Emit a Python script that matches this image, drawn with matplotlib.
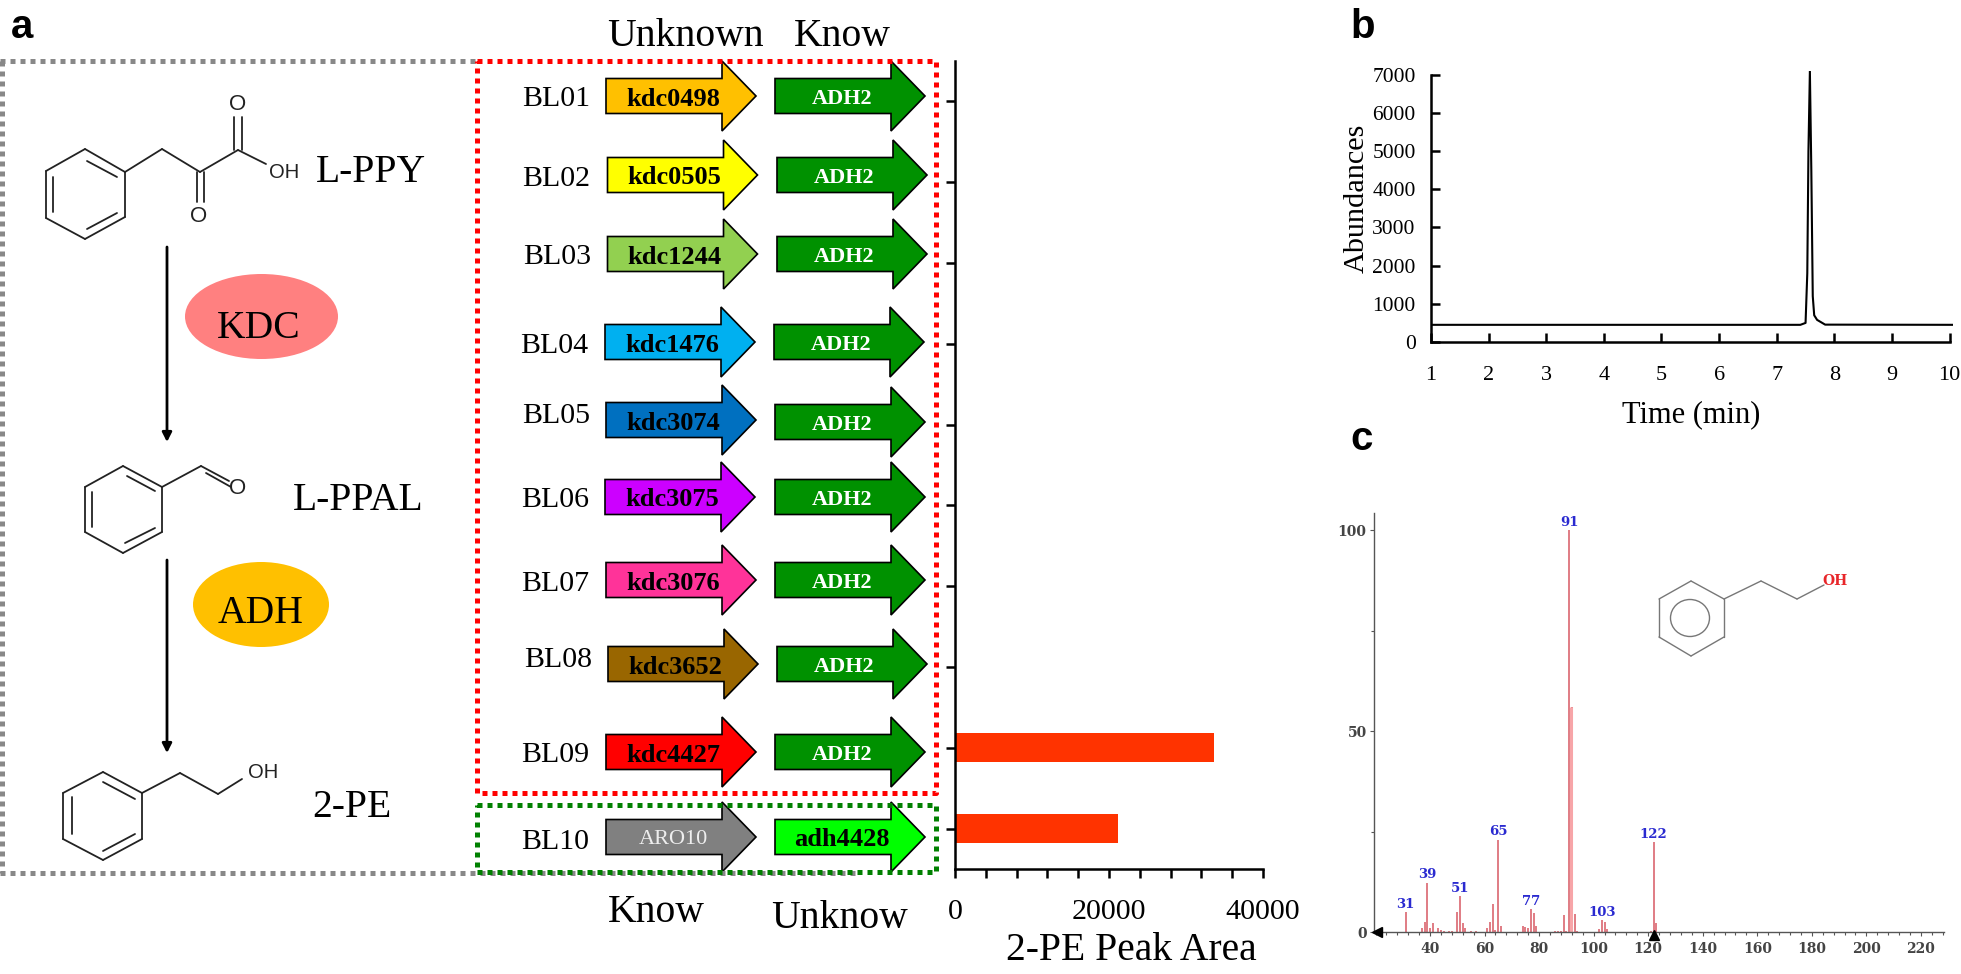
#!/usr/bin/env python3
"""2-PE pathway, strain screen, chromatogram and mass spectrum."""

import matplotlib
matplotlib.use("Agg")
import matplotlib.pyplot as plt
from matplotlib.patches import Ellipse, Polygon
from matplotlib.ticker import FixedLocator, MultipleLocator, NullFormatter

W, H = 1961, 974
SERIF = "Liberation Serif"
SANS = "Liberation Sans"
SPEC_FONT = "DejaVu Serif"

# ---- Data ----
strains = ["BL01", "BL02", "BL03", "BL04", "BL05",
           "BL06", "BL07", "BL08", "BL09", "BL10"]
first_genes = ["kdc0498", "kdc0505", "kdc1244", "kdc1476", "kdc3074",
               "kdc3075", "kdc3076", "kdc3652", "kdc4427", "ARO10"]
second_genes = ["ADH2"] * 9 + ["adh4428"]
peak_area = [0, 0, 0, 0, 0, 0, 0, 0, 33600, 21200]

time_min = [1.0, 7.41, 7.50, 7.53, 7.55, 7.575, 7.60, 7.625, 7.65, 7.70, 7.84, 10.05]
abundance = [450, 450, 500, 1800, 5000, 7100, 4500, 1200, 700, 580, 455, 450]

mz = [31, 37, 38, 39, 40, 41, 43, 44, 45, 47, 48, 50, 51, 52, 53, 55, 57,
      61, 62, 63, 64, 65, 66, 74, 75, 76, 77, 78, 79, 86, 87, 88, 89, 90,
      91, 92, 93, 94, 102, 103, 104, 105, 121, 122, 123]
intensity = [5, 1, 2.5, 12.3, 1, 2.2, 0.9, 0.6, 0.3, 0.3, 0.3, 5, 9, 2.2, 0.9, 0.3, 0.2,
             0.9, 2.5, 6.9, 0.5, 23, 1.4, 1.4, 1.2, 0.9, 5.8, 4.8, 1.4, 0.3, 0.3, 0.3, 4.2, 0.3,
             100, 56, 4.6, 0.3, 0.8, 3, 2.4, 0.7, 0.3, 22.4, 2.2]
labelled_mz = [31, 39, 51, 65, 77, 91, 103, 122]
spectrum_ticks = [40, 60, 80, 100, 120, 140, 160, 180, 200, 220]

# ---- Layout of the gene arrows (pixels) ----
first_left = [606, 607.5, 607.5, 605, 606, 605, 606, 608, 606, 606]
second_left = [775, 777, 777, 774, 775, 775, 775, 777, 775, 775]
first_cy = [96, 175, 254, 342, 420, 497, 580, 664, 752, 837]
second_cy = [96, 175, 254, 342, 422, 497, 580, 664, 752, 837]
label_cy = [96, 176, 254, 343, 413, 497, 581, 657, 752, 839]
label_left = [522, 522, 523, 520, 522, 521, 521, 524, 521, 521]
first_colors = ["#FFC000", "#FFFF00", "#92D050", "#00B0F0", "#0070C0",
                "#CC00FF", "#FF3399", "#996600", "#FF0000", "#808080"]
second_colors = ["#009100"] * 9 + ["#00FF00"]


def px_axes(fig, left, top, right, bottom):
    return fig.add_axes([left / W, 1 - bottom / H, (right - left) / W, (bottom - top) / H])


def gene_arrow(ov, left, cy, color):
    tip, neck = left + 150, left + 116
    pts = [(left, cy - 17.5), (neck, cy - 17.5), (neck, cy - 35), (tip, cy),
           (neck, cy + 35), (neck, cy + 17.5), (left, cy + 17.5)]
    ov.add_patch(Polygon(pts, closed=True, facecolor=color, edgecolor="black",
                         linewidth=1.2, joinstyle="miter"))


def dotted(ov, xs, ys, color):
    ov.plot(xs, ys, color=color, lw=3.6, linestyle=(0, (1, 1)), dash_capstyle="butt")


def segments(ov, segs, color="#222222", lw=1.3):
    for x0, y0, x1, y1 in segs:
        ov.plot([x0, x1], [y0, y1], color=color, lw=lw, solid_capstyle="round")


def draw_pathway(ov):
    # phenylpyruvate
    segments(ov, [(46, 171, 85, 149), (85, 149, 125, 172), (125, 172, 125, 217),
                  (125, 217, 85, 239), (85, 239, 46, 218), (46, 218, 46, 171),
                  (87, 161, 117, 177), (53, 177, 53, 212), (87, 229, 117, 213),
                  (125, 172, 162, 149), (162, 149, 200, 172), (200, 172, 238, 150),
                  (234, 150, 234, 117), (242, 150, 242, 117),
                  (197, 172, 197, 202), (204, 172, 204, 202), (238, 150, 266, 164)])
    ov.text(238, 105, "O", family=SANS, fontsize=16, ha="center", va="center", color="#222222")
    ov.text(199, 216, "O", family=SANS, fontsize=16, ha="center", va="center", color="#222222")
    ov.text(284, 172, "OH", family=SANS, fontsize=14.5, ha="center", va="center", color="#222222")
    # phenylacetaldehyde
    segments(ov, [(85, 487, 123, 466), (123, 466, 162, 487), (162, 487, 162, 532),
                  (162, 532, 123, 553), (123, 553, 85, 532), (85, 532, 85, 487),
                  (127, 476, 155, 491), (92, 492, 92, 527), (125, 543, 155, 528),
                  (162, 487, 201, 466), (201, 466, 229, 481), (206, 473, 231, 487)])
    ov.text(238, 488, "O", family=SANS, fontsize=16, ha="center", va="center", color="#222222")
    # 2-phenylethanol
    segments(ov, [(63, 793, 103, 772), (103, 772, 142, 793), (142, 793, 142, 839),
                  (142, 839, 103, 860), (103, 860, 63, 839), (63, 839, 63, 793),
                  (103, 782, 135, 799), (72, 797, 72, 834), (103, 851, 135, 834),
                  (142, 793, 180, 773), (180, 773, 218, 794), (218, 794, 242, 779)])
    ov.text(263, 772, "OH", family=SANS, fontsize=14.5, ha="center", va="center", color="#222222")

    for y0, y1 in [(247, 442), (560, 753)]:
        ov.annotate("", xy=(167, y1), xytext=(167, y0),
                    arrowprops=dict(arrowstyle="-|>,head_width=0.28,head_length=0.55",
                                    color="black", lw=2, shrinkA=0, shrinkB=0))

    ov.add_patch(Ellipse((261.5, 316.5), 153, 85, facecolor="#FF8080", edgecolor="none"))
    ov.add_patch(Ellipse((261, 604.5), 136, 85, facecolor="#FFC000", edgecolor="none"))

    for x, y, s in [(316, 182, "L-PPY"), (293, 510, "L-PPAL"), (312, 817, "2-PE"),
                    (217, 338, "KDC"), (218, 623, "ADH")]:
        ov.text(x, y, s, family=SERIF, fontsize=28.5, ha="left", va="baseline")


def draw_genes(ov):
    dotted(ov, [0, 475], [61, 61], "#888888")
    dotted(ov, [2, 2], [61, 873], "#888888")
    dotted(ov, [0, 858], [873, 873], "#888888")
    dotted(ov, [477, 936, 936, 477, 477], [61, 61, 793, 793, 61], "#FF0000")
    dotted(ov, [477, 936, 936, 477, 477], [805, 805, 872, 872, 805], "#008000")

    for i, name in enumerate(strains):
        gene_arrow(ov, first_left[i], first_cy[i], first_colors[i])
        gene_arrow(ov, second_left[i], second_cy[i], second_colors[i])
        ov.text(label_left[i], label_cy[i] + 3, name, family=SERIF, fontsize=21.5,
                ha="left", va="center")
        if first_genes[i] == "ARO10":
            ov.text(first_left[i] + 67, first_cy[i] + 3, first_genes[i], family=SERIF,
                    fontsize=16, color="#EEEEEE", ha="center", va="center")
        else:
            ov.text(first_left[i] + 67, first_cy[i] + 3, first_genes[i], family=SERIF,
                    fontsize=19, weight="bold", ha="center", va="center")
        if second_genes[i] == "ADH2":
            ov.text(second_left[i] + 67, second_cy[i] + 3, second_genes[i], family=SERIF,
                    fontsize=16, weight="bold", color="white", ha="center", va="center")
        else:
            ov.text(second_left[i] + 67, second_cy[i] + 3, second_genes[i], family=SERIF,
                    fontsize=19, weight="bold", ha="center", va="center")

    for x, y, s in [(607, 46, "Unknown"), (794, 46, "Know"),
                    (608, 922, "Know"), (771, 928, "Unknow")]:
        ov.text(x, y, s, family=SERIF, fontsize=28.5, ha="left", va="baseline")


def draw_bars(fig):
    ax = px_axes(fig, 955, 61, 1263, 869)
    ax.patch.set_alpha(0)
    ypos = [i + 0.5 for i in range(len(strains))]
    ax.barh(ypos, peak_area, height=0.36, color="#FF3300", linewidth=0)
    ax.set_xlim(0, 40000)
    ax.set_ylim(10, 0)
    ax.spines[["top", "right"]].set_visible(False)
    ax.spines[["left", "bottom"]].set_linewidth(1.8)
    ax.set_yticks(ypos)
    ax.set_yticklabels([])
    ax.xaxis.set_major_locator(FixedLocator([0, 20000, 40000]))
    ax.xaxis.set_minor_locator(MultipleLocator(4000))
    ax.tick_params(axis="both", which="major", length=6.5, width=1.8)
    ax.tick_params(axis="x", which="minor", length=6.5, width=1.8)
    ax.tick_params(axis="x", which="major", pad=15, labelsize=21.6)
    for lab in ax.get_xticklabels():
        lab.set_family(SERIF)


def draw_chromatogram(fig):
    ax = px_axes(fig, 1431, 71, 1952.5, 342)
    ax.patch.set_alpha(0)
    ax.plot(time_min, abundance, color="black", lw=1.5)
    ax.set_xlim(1, 10.05)
    ax.set_ylim(0, 7100)
    ax.spines[["top", "right"]].set_visible(False)
    ax.spines[["left", "bottom"]].set_linewidth(1.8)
    ax.spines["left"].set_bounds(0, 7000)
    ax.spines["bottom"].set_bounds(1, 10)
    ax.set_xticks(range(1, 11))
    ax.set_yticks(range(0, 7001, 1000))
    ax.tick_params(axis="both", direction="in", length=6.5, width=1.8)
    ax.tick_params(axis="x", pad=17, labelsize=16)
    ax.tick_params(axis="y", pad=11, labelsize=15.5)
    for lab in ax.get_xticklabels() + ax.get_yticklabels():
        lab.set_family(SERIF)


def draw_spectrum(fig, ov):
    ax = px_axes(fig, 1373.6, 513, 1943.5, 932)
    ax.patch.set_alpha(0)
    ax.vlines(mz, 0, intensity, color="#E07C84", lw=1.4)
    ax.vlines([91.6], 0, [56], color="#F7A5A8", lw=2.2)
    ax.set_xlim(19.3, 228.3)
    ax.set_ylim(0, 104.3)
    ax.spines[["top", "right"]].set_visible(False)
    ax.spines[["left", "bottom"]].set_linewidth(1)
    ax.spines[["left", "bottom"]].set_color("#555555")
    ax.xaxis.set_major_locator(FixedLocator(spectrum_ticks))
    ax.xaxis.set_minor_locator(MultipleLocator(4))
    ax.xaxis.set_minor_formatter(NullFormatter())
    ax.set_yticks([0, 50, 100])
    ax.set_yticks([25, 75], minor=True)
    ax.tick_params(axis="both", which="major", length=3, width=0.8, color="#555555",
                   labelcolor="#444444", labelsize=10, pad=2)
    ax.tick_params(axis="both", which="minor", length=2, width=0.8, color="#555555")
    ax.tick_params(axis="x", which="major", pad=4)
    for lab in ax.get_xticklabels() + ax.get_yticklabels():
        lab.set_family(SPEC_FONT)
        lab.set_weight("bold")
    for m in labelled_mz:
        ax.annotate(str(m), (m, intensity[mz.index(m)]), xytext=(0, 5.5),
                    textcoords="offset points", ha="center", va="center",
                    family=SPEC_FONT, weight="bold", fontsize=9.5, color="#2A2AD0")
    ax.plot([122], [-0.7], marker="^", color="black", ms=7, clip_on=False, zorder=5)
    ax.plot([20.6], [0], marker="<", color="black", ms=7, clip_on=False, zorder=5)

    # phenylethanol inset, drawn in figure pixels
    segments(ov, [(1691, 581, 1724, 599), (1724, 599, 1724, 637), (1724, 637, 1691, 656),
                  (1691, 656, 1659, 637), (1659, 637, 1659, 599), (1659, 599, 1691, 581),
                  (1724, 599, 1761, 581), (1761, 581, 1797, 599), (1797, 599, 1824, 585)],
             color="#777777", lw=1.0)
    ov.add_patch(Ellipse((1690, 618), 39, 37, fill=False, edgecolor="#777777", linewidth=1.0))
    ov.text(1835, 581, "OH", family=SPEC_FONT, weight="bold", fontsize=10,
            color="#E8262A", ha="center", va="center")


def main():
    fig = plt.figure(figsize=(W / 100, H / 100), dpi=100, facecolor="white")

    draw_bars(fig)
    draw_chromatogram(fig)

    ov = fig.add_axes([0, 0, 1, 1], zorder=5)
    ov.set_xlim(0, W)
    ov.set_ylim(H, 0)
    ov.axis("off")

    draw_spectrum(fig, ov)
    draw_pathway(ov)
    draw_genes(ov)

    ov.text(1131, 951, "2-PE Peak Area", family=SERIF, fontsize=28.5, ha="center", va="center")
    ov.text(1691, 415, "Time (min)", family=SERIF, fontsize=22, ha="center", va="center")
    ov.text(1357, 198, "Abundances", family=SERIF, fontsize=21.8, rotation=90,
            ha="center", va="center")
    for x, y, s in [(11, 38, "a"), (1350, 38, "b"), (1350, 450, "c")]:
        ov.text(x, y, s, family=SANS, weight="bold", fontsize=29, ha="left", va="baseline")

    fig.savefig("out.png", dpi=100)
    plt.close(fig)


if __name__ == "__main__":
    main()
